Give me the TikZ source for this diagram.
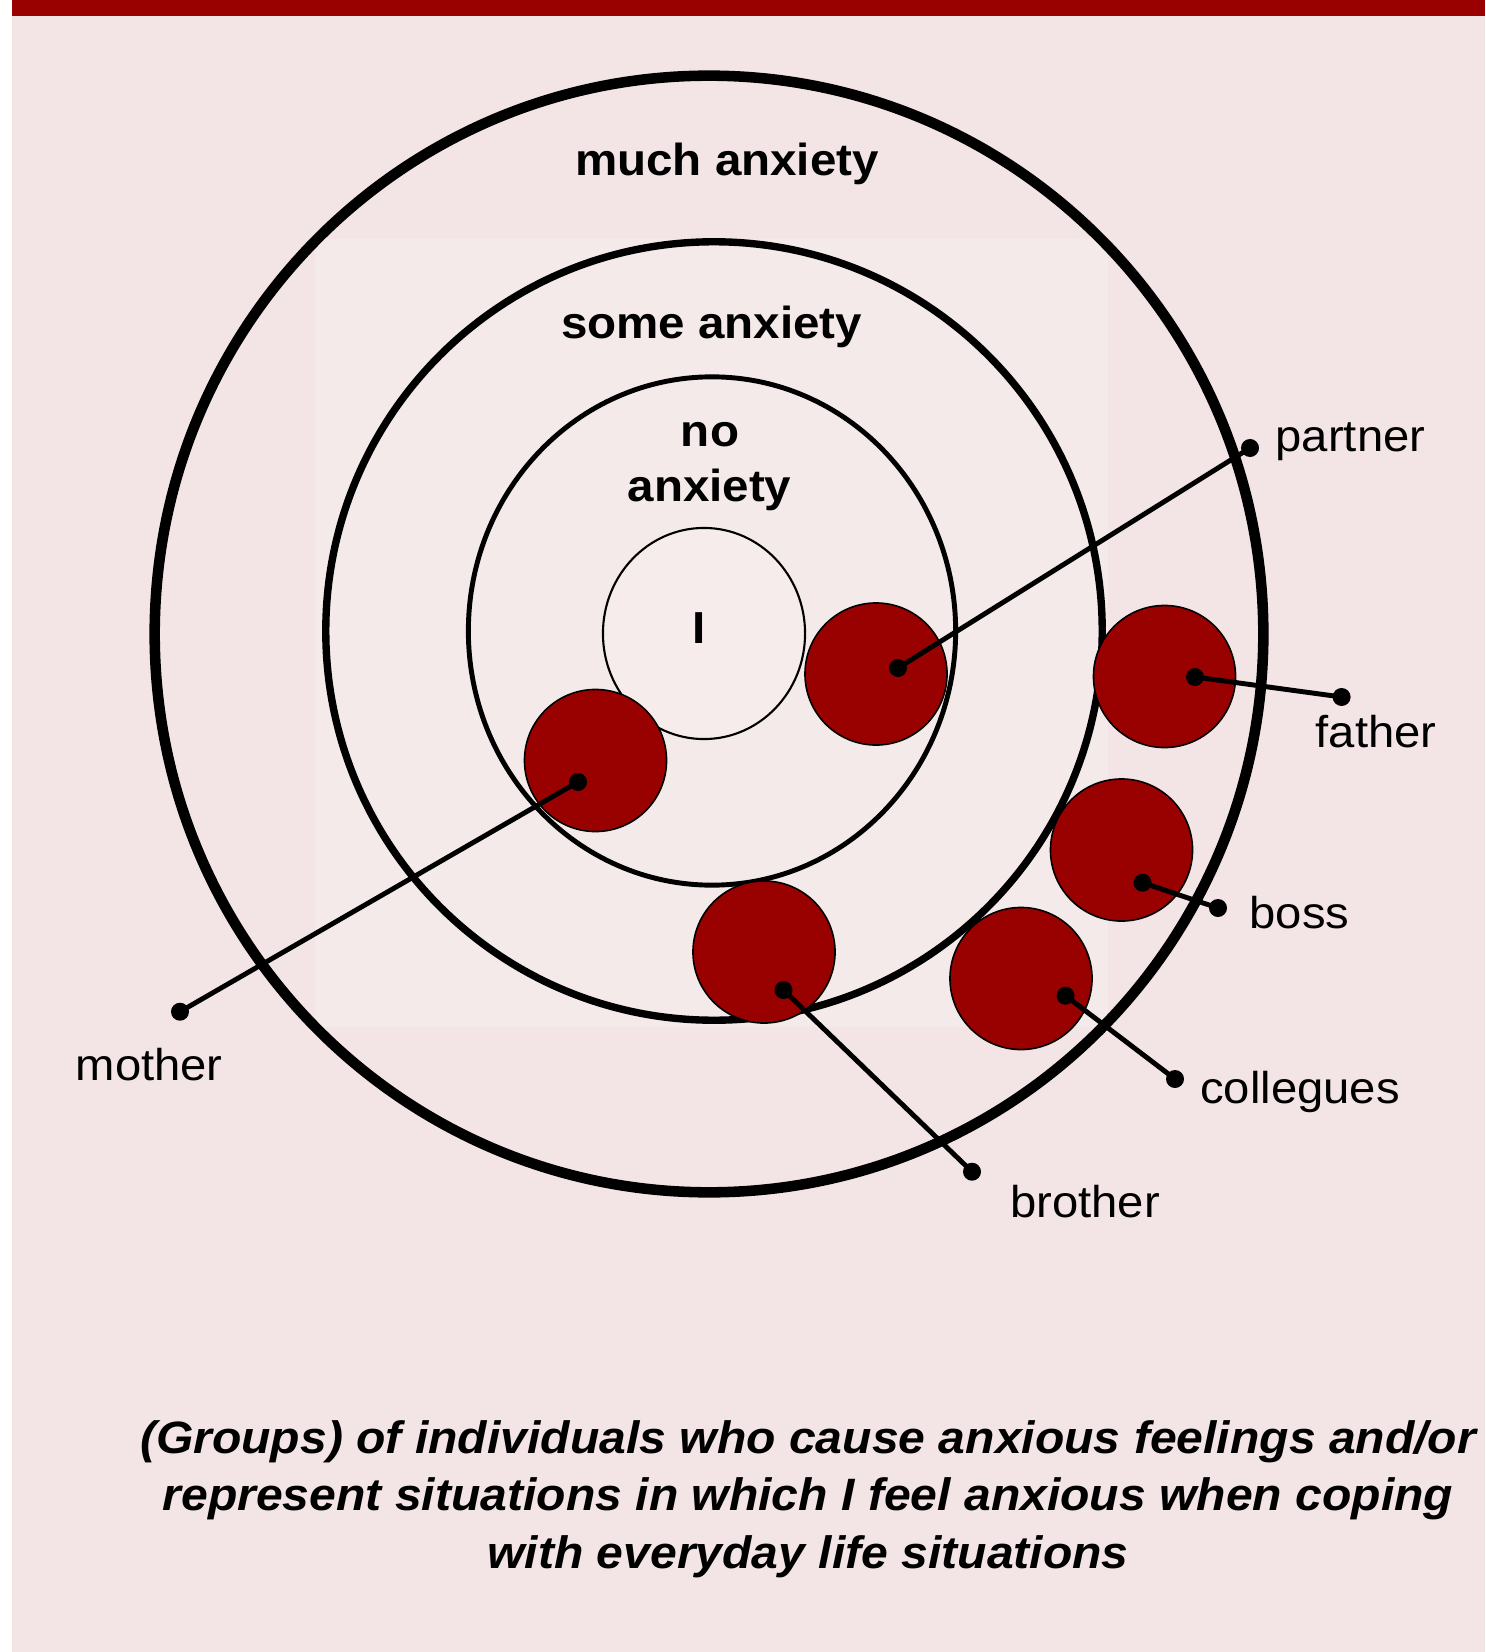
\documentclass[tikz,border=0pt]{standalone}
\usepackage{fontspec}
\setmainfont{Liberation Sans}[FakeStretch=1.06]
\usepackage{xcolor}
\usepackage{tikz}
\usetikzlibrary{shapes.geometric}

\definecolor{anxred}{HTML}{990000}
\definecolor{bgpink}{HTML}{F3E5E5}
\definecolor{patchpink}{HTML}{F5EAEA}
\definecolor{selfwhite}{HTML}{F6ECEC}

\begin{document}
\begin{tikzpicture}[x=0.01cm, y=-0.01cm,
    ring/.style={draw=black, ellipse, inner sep=0pt},
    person/.style={draw=black, line width=0.45pt, circle, fill=anxred, minimum size=1.42cm, inner sep=0pt},
    pinend/.style={fill=black, circle, inner sep=0pt, minimum size=0.18cm},
    pin/.style={line width=1.4pt},
    level/.style={font=\bfseries\fontsize{12.75}{15}\selectfont, inner sep=0pt, anchor=base},
    who/.style={font=\fontsize{12.67}{15}\selectfont, inner sep=0pt, anchor=base west}]
    \useasboundingbox (0, 0) rectangle (1485, 1652);
    \fill[white] (0, 0) rectangle (1485, 1652);
    \fill[bgpink] (12, 0) rectangle (1485, 1652);
    \fill[anxred] (12, 0) rectangle (1485, 16);
    \fill[patchpink] (315, 239) rectangle (1108, 1027);

    \node[ring, line width=3pt, minimum width=11.08cm, minimum height=11.16cm] at (709, 634) (much) {};
    \node[ring, line width=2.1pt, minimum width=7.76cm, minimum height=7.78cm] at (714, 631) (some) {};
    \node[ring, line width=1.4pt, minimum width=4.87cm, minimum height=5.08cm] at (712, 631) (none) {};
    \node[ring, line width=0.6pt, fill=selfwhite, minimum width=2.02cm, minimum height=2.11cm] at (704, 633.5) (self) {};

    \node[level] at (727, 176) (muchLabel) {much anxiety};
    \node[level] at (711.7, 339) (someLabel) {some anxiety};
    \node[level] at (710, 446) (noLabel) {no};
    \node[level] at (709.5, 501) (noLabelB) {anxiety};
    \node[level] at (699, 643) (selfLabel) {I};

    \node[person] at (876, 674) (partner) {};
    \node[person] at (595.5, 760.5) (mother) {};
    \node[person] at (1164.5, 676.5) (father) {};
    \node[person] at (1121.5, 850) (boss) {};
    \node[person] at (1021, 978.5) (collegues) {};
    \node[person] at (764, 952) (brother) {};

    \node[pinend] at (898, 668) (partnerPin) {};
    \node[pinend] at (578, 782) (motherPin) {};
    \node[pinend] at (1195, 677) (fatherPin) {};
    \node[pinend] at (1142.5, 882.7) (bossPin) {};
    \node[pinend] at (1065.6, 995.7) (colleguesPin) {};
    \node[pinend] at (783.5, 990) (brotherPin) {};

    \node[pinend] at (1250, 448) (partnerEnd) {};
    \node[pinend] at (180, 1011.7) (motherEnd) {};
    \node[pinend] at (1341.6, 697) (fatherEnd) {};
    \node[pinend] at (1218, 908) (bossEnd) {};
    \node[pinend] at (1175, 1079) (colleguesEnd) {};
    \node[pinend] at (972, 1171.7) (brotherEnd) {};

    \draw[pin] (partnerPin.center) -- (partnerEnd.center);
    \draw[pin] (motherPin.center) -- (motherEnd.center);
    \draw[pin] (fatherPin.center) -- (fatherEnd.center);
    \draw[pin] (bossPin.center) -- (bossEnd.center);
    \draw[pin] (colleguesPin.center) -- (colleguesEnd.center);
    \draw[pin] (brotherPin.center) -- (brotherEnd.center);

    \node[who] at (1275, 452) (partnerLabel) {partner};
    \node[who] at (75, 1080) (motherLabel) {mother};
    \node[who] at (1315, 747) (fatherLabel) {father};
    \node[who] at (1249, 928) (bossLabel) {boss};
    \node[who] at (1199.5, 1103) (colleguesLabel) {collegues};
    \node[who] at (1009.5, 1217.7) (brotherLabel) {brother};

    \node[font=\bfseries\itshape\fontsize{12.9}{16.3}\selectfont, align=center, inner sep=0pt] at (808, 1499) (caption)
        {(Groups) of individuals who cause anxious feelings and/or\\represent situations in which I feel anxious when coping\\with everyday life situations};
\end{tikzpicture}
\end{document}
